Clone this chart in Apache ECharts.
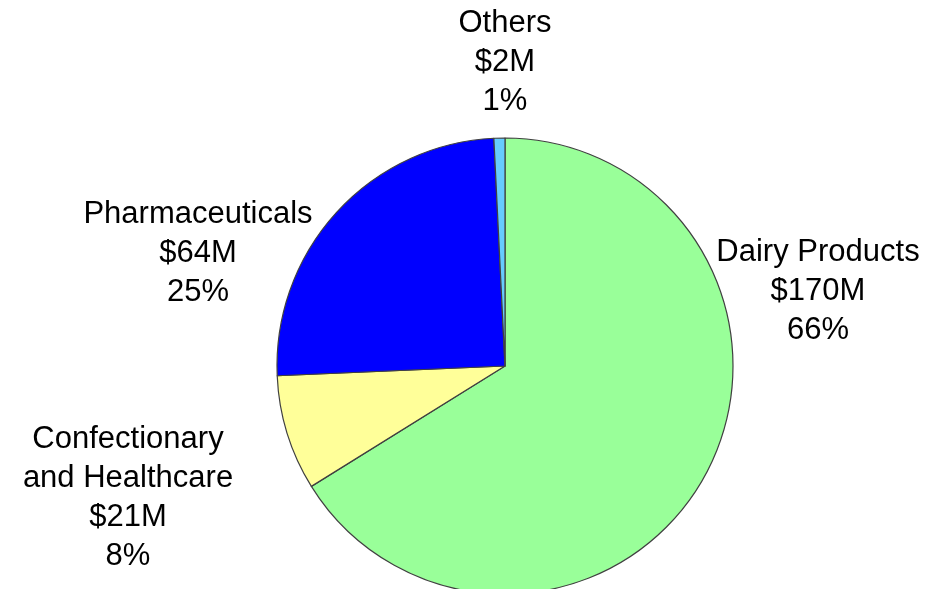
<!DOCTYPE html>
<html>
<head>
<meta charset="utf-8">
<script src="https://cdn.jsdelivr.net/npm/echarts@6/dist/echarts.min.js"></script>
<style>
html,body{margin:0;padding:0;background:#fff;}
#chart{width:938px;height:589px;}
</style>
</head>
<body>
<div id="chart"></div>
<script>
const categories = ["Dairy Products", "Confectionary\nand Healthcare", "Pharmaceuticals", "Others"];
const values = [170, 21, 64, 2];
const colors = ["#99FF99", "#FFFF99", "#0000FF", "#66CCFF"];
const labelPos = [[818, 291], [128, 498], [198, 253], [505, 62]];

const chart = echarts.init(document.getElementById('chart'), null, {renderer: 'canvas'});
chart.setOption({
  animation: false,
  backgroundColor: '#ffffff',
  series: [{
    type: 'pie',
    center: [505, 366],
    radius: 228,
    startAngle: 90,
    clockwise: true,
    avoidLabelOverlap: false,
    data: categories.map((c, i) => ({
      name: c, value: values[i],
      itemStyle: {color: colors[i]}
    })),
    itemStyle: {borderColor: '#404040', borderWidth: 1.2},
    label: {
      show: true,
      position: 'outside',
      color: '#000',
      fontFamily: 'Liberation Sans, Arial, sans-serif',
      fontSize: 31,
      lineHeight: 39,
      align: 'center',
      formatter: p => p.name + '\n$' + p.value + 'M\n' + Math.round(p.percent) + '%'
    },
    labelLine: {show: false},
    labelLayout: function (params) {
      const pos = labelPos[params.dataIndex];
      return {x: pos[0], y: pos[1], align: 'center', verticalAlign: 'middle', hideOverlap: false};
    },
    emphasis: {disabled: true}
  }]
});
</script>
</body>
</html>
